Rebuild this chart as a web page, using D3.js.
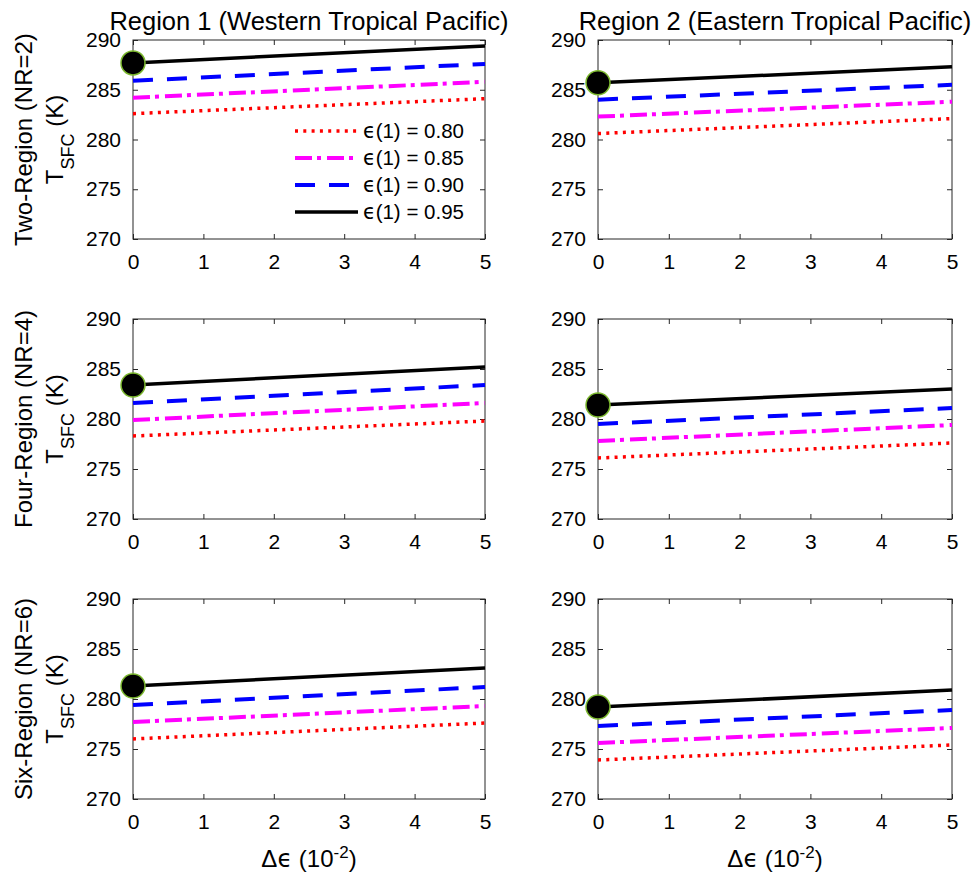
<!DOCTYPE html>
<meta charset="utf-8">
<style>
  body { margin: 0; background: #fff; }
  text { font-family: "Liberation Sans", Arial, Helvetica, sans-serif; fill: #000; }
  .tick line { stroke: #262626; }
  .tick text { font-size: 21px; }
  .eps { font-family: "DejaVu Sans", sans-serif; }
</style>
<svg width="971" height="873"></svg>
<script src="https://d3js.org/d3.v7.min.js"></script>
<script>
  // x positions (Delta epsilon, 10^-2) where the curves were read
  var deltaEps = [0, 5];
  var xTicks = [0, 1, 2, 3, 4, 5];
  var yTicks = [270, 275, 280, 285, 290];
  var eps1 = ["0.80", "0.85", "0.90", "0.95"];
  var colTitles = ["Region 1 (Western Tropical Pacific)", "Region 2 (Eastern Tropical Pacific)"];
  var rowNames = ["Two-Region (NR=2)", "Four-Region (NR=4)", "Six-Region (NR=6)"];

  // T_SFC (K), one row per eps(1) value: 0.80, 0.85, 0.90, 0.95
  var twoRegionR1 = [[282.6, 284.1], [284.2, 285.8], [285.9, 287.6], [287.7, 289.4]];
  var twoRegionR2 = [[280.6, 282.1], [282.3, 283.8], [284.0, 285.5], [285.7, 287.3]];
  var fourRegionR1 = [[278.3, 279.8], [279.9, 281.6], [281.6, 283.4], [283.4, 285.2]];
  var fourRegionR2 = [[276.1, 277.6], [277.8, 279.4], [279.5, 281.1], [281.4, 283.0]];
  var sixRegionR1 = [[276.0, 277.6], [277.7, 279.3], [279.4, 281.2], [281.3, 283.1]];
  var sixRegionR2 = [[273.9, 275.4], [275.6, 277.1], [277.3, 278.9], [279.2, 280.9]];

  var panels = [
    [twoRegionR1, twoRegionR2],
    [fourRegionR1, fourRegionR2],
    [sixRegionR1, sixRegionR2]
  ];

  // styles per series
  var colors = ["#ff0000", "#ff00ff", "#0000ff", "#000000"];
  var dashes = ["3,5.3", "17,5,4,6", "20,14", null];
  var widths = [3.5, 4, 4, 3.5];

  var svg = d3.select("svg");
  var colX = [[133, 485], [598, 952]];
  var rowY = [[40, 239], [319, 519], [599, 799]];
  var fmt = d3.format("d");

  panels.forEach(function(row, r) {
    row.forEach(function(series, c) {
      var x = d3.scaleLinear().domain([0, 5]).range(colX[c]);
      var y = d3.scaleLinear().domain([270, 290]).range([rowY[r][1], rowY[r][0]]);
      var g = svg.append("g");

      g.append("g")
        .attr("transform", "translate(0," + rowY[r][1] + ")")
        .call(d3.axisBottom(x).tickValues(xTicks).tickFormat(fmt).tickSizeInner(-5).tickSizeOuter(0).tickPadding(15))
        .call(function(a) { a.select(".domain").remove(); });
      g.append("g")
        .attr("transform", "translate(0," + rowY[r][0] + ")")
        .call(d3.axisTop(x).tickValues(xTicks).tickSizeInner(-5).tickSizeOuter(0).tickFormat(""))
        .call(function(a) { a.select(".domain").remove(); });
      g.append("g")
        .attr("transform", "translate(" + colX[c][0] + ",0)")
        .call(d3.axisLeft(y).tickValues(yTicks).tickFormat(fmt).tickSizeInner(-5).tickSizeOuter(0).tickPadding(12))
        .call(function(a) { a.select(".domain").remove(); });
      g.append("g")
        .attr("transform", "translate(" + colX[c][1] + ",0)")
        .call(d3.axisRight(y).tickValues(yTicks).tickSizeInner(-5).tickSizeOuter(0).tickFormat(""))
        .call(function(a) { a.select(".domain").remove(); });

      g.append("rect")
        .attr("x", colX[c][0]).attr("y", rowY[r][0])
        .attr("width", colX[c][1] - colX[c][0])
        .attr("height", rowY[r][1] - rowY[r][0])
        .attr("fill", "none").attr("stroke", "#262626").attr("stroke-width", 1);

      var line = d3.line()
        .x(function(d, i) { return x(deltaEps[i]); })
        .y(function(d) { return y(d); });

      series.forEach(function(vals, k) {
        g.append("path")
          .attr("d", line(vals))
          .attr("fill", "none")
          .attr("stroke", colors[k])
          .attr("stroke-width", widths[k])
          .attr("stroke-dasharray", dashes[k]);
      });

      var top = series[series.length - 1];
      g.append("circle")
        .attr("cx", x(deltaEps[0]))
        .attr("cy", y(top[0]))
        .attr("r", 12)
        .attr("fill", "#000")
        .attr("stroke", "#7cb82f")
        .attr("stroke-width", 1.5);

      var cx = (colX[c][0] + colX[c][1]) / 2;
      if (r == 0) {
        svg.append("text")
          .attr("x", cx).attr("y", 30)
          .attr("text-anchor", "middle")
          .style("font-size", "25.5px")
          .text(colTitles[c]);
      }
      if (r == 2) {
        var xl = svg.append("text")
          .attr("x", cx).attr("y", 867)
          .attr("text-anchor", "middle")
          .style("font-size", "24px");
        xl.append("tspan").text("\u0394");
        xl.append("tspan").attr("class", "eps").text("\u03f5");
        xl.append("tspan").text(" (10");
        xl.append("tspan").attr("dy", -9).style("font-size", "17px").text("-2");
        xl.append("tspan").attr("dy", 9).text(")");
      }
      if (c == 0) {
        var cy = (rowY[r][0] + rowY[r][1]) / 2;
        svg.append("text")
          .attr("transform", "translate(32," + cy + ") rotate(-90)")
          .attr("text-anchor", "middle")
          .style("font-size", "24px")
          .text(rowNames[r]);
        var yl = svg.append("text")
          .attr("transform", "translate(63," + cy + ") rotate(-90)")
          .attr("text-anchor", "middle")
          .style("font-size", "24px");
        yl.append("tspan").text("T");
        yl.append("tspan").attr("dy", 11).style("font-size", "18px").text("SFC");
        yl.append("tspan").attr("dy", -11).text(" (K)");
      }
    });
  });

  // legend in the first panel
  var legY = [131, 158, 185, 212];
  var leg = svg.append("g");
  eps1.forEach(function(v, k) {
    leg.append("line")
      .attr("x1", 295).attr("x2", 358)
      .attr("y1", legY[k]).attr("y2", legY[k])
      .attr("stroke", colors[k])
      .attr("stroke-width", widths[k])
      .attr("stroke-dasharray", dashes[k]);
    var t = leg.append("text")
      .attr("x", 363).attr("y", legY[k])
      .attr("dy", "0.35em")
      .style("font-size", "20.5px");
    t.append("tspan").attr("class", "eps").text("\u03f5");
    t.append("tspan").text("(1) = " + v);
  });
</script>
